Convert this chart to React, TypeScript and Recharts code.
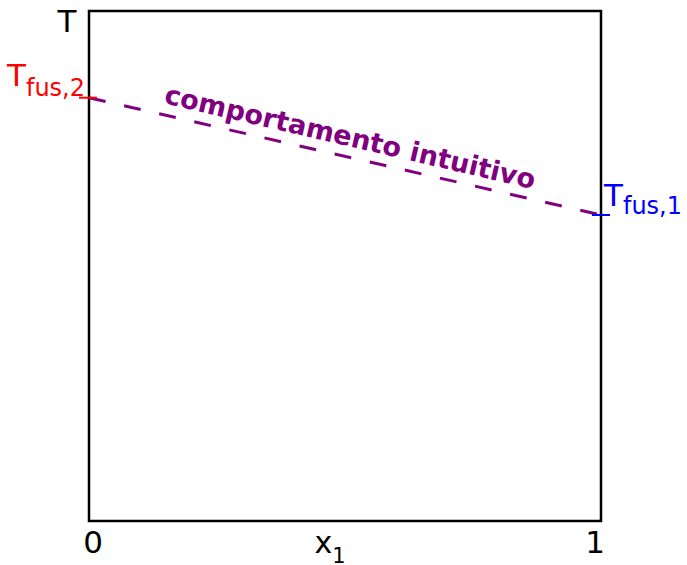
import { LineChart, Line, XAxis, YAxis, ReferenceArea, ReferenceDot } from 'recharts'

// mole fraction of component 1 and the two pure-component melting points
const xTicks = [0, 1]
const tFus1 = 0.6
const tFus2 = 0.83
const lineData = [
  { x: 0, T: tFus2 },
  { x: 1, T: tFus1 },
]
// where the line's caption sits (data coords) and its tilt in degrees
const captionAt = { x: 0.506, T: 0.735 }
const captionAngle = 13.1

const FONT = 'DejaVu Sans'
const PURPLE = '#800080'

// tick labels are nudged a little toward the middle of the box
const tickShift: Record<number, number> = { 0: 4, 1: -6 }

const XTick = ({ x, y, payload }: any) => (
  <text
    x={x + (tickShift[payload.value] ?? 0)}
    y={y + 32}
    textAnchor="middle"
    fontFamily={FONT}
    fontSize={31}
    fill="#000"
  >
    {payload.value}
  </text>
)

const LeftTick = ({ x, y }: any) => (
  <g>
    <line x1={x - 10} x2={x + 8} y1={y} y2={y} stroke="#ff0000" strokeWidth={2} />
    <text x={x - 4} y={y - 12} textAnchor="end" fontFamily={FONT} fontSize={31} fill="#ff0000">
      T<tspan fontSize={24} dy={10}>fus,2</tspan>
    </text>
  </g>
)

const RightMark = ({ viewBox }: any) => {
  const x = viewBox.x + viewBox.width / 2
  const y = viewBox.y + viewBox.height / 2
  return (
    <g>
      <line x1={x - 9} x2={x + 9} y1={y} y2={y} stroke="#0000ff" strokeWidth={2} />
      <text x={x + 3} y={y - 9} textAnchor="start" fontFamily={FONT} fontSize={31} fill="#0000ff">
        T<tspan fontSize={24} dy={8}>fus,1</tspan>
      </text>
    </g>
  )
}

const TLabel = ({ viewBox }: any) => (
  <text x={viewBox.x + viewBox.width - 22} y={viewBox.y + 21} textAnchor="middle" fontFamily={FONT} fontSize={31} fill="#000">
    T
  </text>
)

const XLabel = ({ viewBox }: any) => (
  <text x={viewBox.x + viewBox.width / 2 - 15} y={viewBox.y + 32} textAnchor="middle" fontFamily={FONT} fontSize={30} fill="#000">
    x<tspan fontSize={21} dy={10}>1</tspan>
  </text>
)

const Caption = ({ viewBox }: any) => {
  const cx = viewBox.x + viewBox.width / 2
  const cy = viewBox.y + viewBox.height / 2
  return (
    <text
      x={cx}
      y={cy}
      textAnchor="middle"
      fontFamily={FONT}
      fontWeight="bold"
      fontSize={27}
      fill={PURPLE}
      transform={`rotate(${captionAngle} ${cx} ${cy})`}
    >
      comportamento intuitivo
    </text>
  )
}

export default function App() {
  return (
    <div style={{ position: 'absolute', left: 0, top: 0, background: '#fff' }}>
      <LineChart width={687} height={565} data={lineData} margin={{ top: 11, right: 86, bottom: 0, left: 0 }}>
        <XAxis
          dataKey="x"
          type="number"
          domain={[0, 1]}
          ticks={xTicks}
          height={44}
          tickSize={0}
          tickMargin={0}
          axisLine={false}
          tickLine={false}
          tick={<XTick />}
          label={(p: any) => <XLabel {...p} />}
        />
        <YAxis
          type="number"
          domain={[0, 1]}
          ticks={[tFus2]}
          width={89}
          tickSize={0}
          tickMargin={0}
          axisLine={false}
          tickLine={false}
          tick={<LeftTick />}
          label={(p: any) => <TLabel {...p} />}
        />
        <ReferenceArea x1={0} x2={1} y1={0} y2={1} fill="none" stroke="#000" strokeWidth={2.5} />
        <Line
          dataKey="T"
          stroke={PURPLE}
          strokeWidth={3}
          strokeDasharray="17 19"
          dot={false}
          isAnimationActive={false}
        />
        <ReferenceDot
          x={1}
          y={tFus1}
          r={0}
          fill="none"
          stroke="none"
          label={(p: any) => <RightMark {...p} />}
        />
        <ReferenceDot
          x={captionAt.x}
          y={captionAt.T}
          r={0}
          fill="none"
          stroke="none"
          label={(p: any) => <Caption {...p} />}
        />
      </LineChart>
    </div>
  )
}
